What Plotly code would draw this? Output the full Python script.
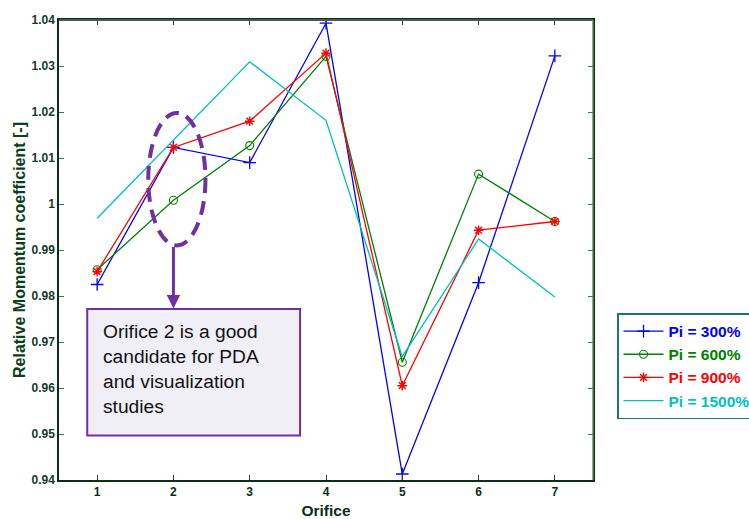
import plotly.graph_objects as go

# Orifice numbers and relative momentum coefficient per injection pressure
orifices = [1, 2, 3, 4, 5, 6, 7]
pi_300 = [0.9825, 1.0123, 1.0090, 1.0393, 0.9413, 0.9829, 1.0322]
pi_600 = [0.9857, 1.0008, 1.0127, 1.0321, 0.9656, 1.0065, 0.9962]
pi_900 = [0.9853, 1.0123, 1.0180, 1.0328, 0.9605, 0.9943, 0.9962]
pi_1500 = [0.9969, 1.0140, 1.0309, 1.0182, 0.9668, 0.9924, 0.9798]

series_names = ["Pi = 300%", "Pi = 600%", "Pi = 900%", "Pi = 1500%"]
series_colors = ["#0000FF", "#008000", "#FF0000", "#00BFBF"]

y_ticks = [0.94, 0.95, 0.96, 0.97, 0.98, 0.99, 1.00, 1.01, 1.02, 1.03, 1.04]
y_tick_text = ["0.94", "0.95", "0.96", "0.97", "0.98", "0.99", "1", "1.01", "1.02", "1.03", "1.04"]
x_tick_text = ["1", "2", "3", "4", "5", "6", "7"]

note_text = "Orifice 2 is a good<br>candidate for PDA<br>and visualization<br>studies"

FONT = "Arial, Liberation Sans, sans-serif"
PURPLE = "#7030A0"
AXIS_DARK = "#0b2e17"

fig = go.Figure()

marker_styles = [
    dict(symbol="cross-thin", size=9, line=dict(width=1.3)),
    dict(symbol="circle-open", size=8, line=dict(width=1.1)),
    dict(symbol="asterisk-open", size=8, line=dict(width=1.4)),
    None,
]
values = [pi_300, pi_600, pi_900, pi_1500]

for name, color, ys, mk in zip(series_names, series_colors, values, marker_styles):
    label = f"<span style='color:{color}'><b>{name}</b></span>"
    if mk is None:
        fig.add_trace(go.Scatter(x=orifices, y=ys, mode="lines", name=label,
                                 line=dict(color=color, width=1.3)))
    else:
        m = dict(mk)
        m["color"] = color
        m["line"] = dict(mk["line"], color=color)
        fig.add_trace(go.Scatter(x=orifices, y=ys, mode="lines+markers", name=label,
                                 line=dict(color=color, width=1.3), marker=m))

# Dashed ellipse around orifice 2
fig.add_shape(type="circle", xref="x", yref="y",
              x0=1.67, x1=2.42, y0=0.9910, y1=1.0198,
              line=dict(color=PURPLE, width=4, dash="14px,8px"), layer="above")

# Arrow from ellipse down to the note box
fig.add_annotation(x=2.0, y=0.9773, ax=2.0, ay=0.9910, xref="x", yref="y",
                   axref="x", ayref="y", text="", showarrow=True,
                   arrowhead=2, arrowsize=0.9, arrowwidth=3, arrowcolor=PURPLE)

# Note box
fig.add_shape(type="rect", xref="x", yref="y",
              x0=0.87, x1=3.66, y0=0.9497, y1=0.9772,
              line=dict(color=PURPLE, width=2), fillcolor="#F1EFF6", layer="above")
fig.add_annotation(x=1.05, y=0.9750, xref="x", yref="y", text=note_text,
                   showarrow=False, xanchor="left", yanchor="top", align="left",
                   font=dict(family=FONT, size=19.2, color="#111111"))

# Recolour the top and right frame edges
fig.add_shape(type="line", xref="paper", yref="paper", x0=0, x1=1, y0=1, y1=1,
              line=dict(color="#555555", width=2), layer="above")
fig.add_shape(type="line", xref="paper", yref="paper", x0=1, x1=1, y0=0, y1=1,
              line=dict(color="#5f8f5f", width=1.5), layer="above")

fig.update_layout(
    width=749, height=519,
    margin=dict(l=59, r=156, t=20, b=39, autoexpand=False),
    paper_bgcolor="white", plot_bgcolor="white",
    font=dict(family=FONT, color=AXIS_DARK),
    showlegend=True,
    legend=dict(x=1.045, y=0.363, xanchor="left", yanchor="top",
                bgcolor="white", bordercolor="#1a7a6a", borderwidth=1.5,
                font=dict(family=FONT, size=15.5), tracegroupgap=0,
                itemwidth=40),
    xaxis=dict(range=[0.5, 7.5], tickvals=orifices, ticktext=x_tick_text,
               ticks="inside", ticklen=5, tickcolor="#333333", showgrid=False,
               zeroline=False, showline=True, linecolor=AXIS_DARK, linewidth=1.5,
               mirror="ticks",
               tickfont=dict(family=FONT, size=12, color=AXIS_DARK),
               title=dict(text="<b>Orifice</b>", font=dict(family=FONT, size=15.5, color=AXIS_DARK),
                          standoff=8)),
    yaxis=dict(range=[0.94, 1.04], tickvals=y_ticks, ticktext=y_tick_text,
               ticks="inside", ticklen=5, tickcolor="#2a7a5a", showgrid=False,
               zeroline=False, showline=True, linecolor=AXIS_DARK, linewidth=1.5,
               mirror="ticks",
               tickfont=dict(family=FONT, size=12, color="#103a2a"),
               title=dict(text="<b>Relative Momentum coefficient [-]</b>",
                          font=dict(family=FONT, size=16, color="#0b3d1f"), standoff=2)),
)

# Bold tick labels
fig.update_xaxes(ticktext=[f"<b>{t}</b>" for t in x_tick_text])
fig.update_yaxes(ticktext=[f"<b>{t}</b>" for t in y_tick_text])

fig.write_html("out.html")
